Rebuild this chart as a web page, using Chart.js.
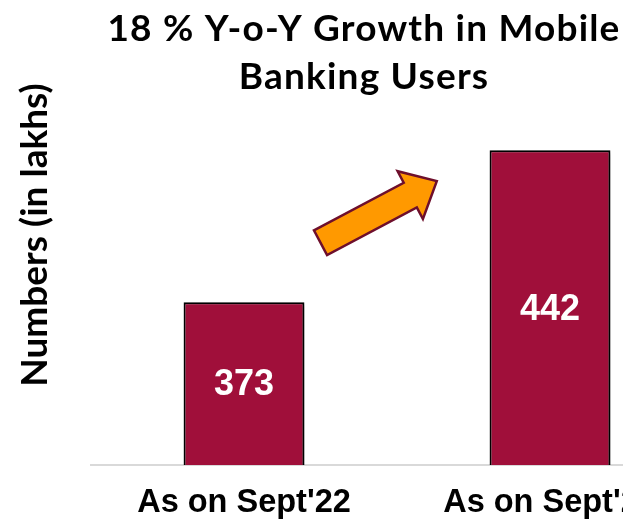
<!DOCTYPE html>
<html>
<head>
<meta charset="utf-8">
<script src="https://cdn.jsdelivr.net/npm/chart.js@4/dist/chart.umd.min.js"></script>
<style>
    html, body { margin: 0; padding: 0; background: #fff; overflow: hidden; }
    #wrap { width: 623px; height: 521px; overflow: hidden; }
    #box { width: 728px; height: 521px; }
</style>
</head>
<body>
<div id="wrap"><div id="box"><canvas id="usersChart"></canvas></div></div>
<script>
const categories = ["As on Sept'22", "As on Sept'23"];
const userCounts = [373, 442];
const titleLines = ['18 % Y-o-Y Growth in Mobile', 'Banking Users'];
const axisTitle = 'Numbers (in lakhs)';

const barColour = '#A00F3A';
const arrowFill = '#FF9900';
const arrowEdge = '#6E0F2C';

// soft shadow to the right of the bars
const barShadow = {
    id: 'barShadow',
    beforeDatasetDraw: (chart) => {
        let ctx = chart.ctx;
        ctx.save();
        ctx.shadowColor = 'rgba(0, 0, 0, 0.4)';
        ctx.shadowOffsetX = 4;
        ctx.shadowOffsetY = 2;
        ctx.shadowBlur = 5;
    },
    afterDatasetDraw: (chart) => {
        chart.ctx.restore();
    },
};

// value inside each bar + the growth arrow between them
const barExtras = {
    id: 'barExtras',
    afterDatasetsDraw: (chart) => {
        let ctx = chart.ctx;
        let x = chart.scales.x;
        let y = chart.scales.y;

        ctx.save();
        ctx.fillStyle = '#ffffff';
        ctx.font = 'bold 36px "Liberation Sans", Arial, sans-serif';
        ctx.textAlign = 'center';
        ctx.textBaseline = 'middle';
        for (let i = 0; i < userCounts.length; i++) {
            let top = y.getPixelForValue(userCounts[i]);
            ctx.fillText(String(userCounts[i]), x.getPixelForValue(i), (top + y.bottom) / 2 + 2);
        }
        ctx.restore();

        // block arrow, tail and tip placed on the scales
        let x0 = x.getPixelForValue(0.25), y0 = y.getPixelForValue(400);
        let x1 = x.getPixelForValue(0.63), y1 = y.getPixelForValue(428);
        let len = Math.hypot(x1 - x0, y1 - y0);
        let shaft = 14, head = 27, headLen = 30;
        ctx.save();
        ctx.translate(x0, y0);
        ctx.rotate(Math.atan2(y1 - y0, x1 - x0));
        ctx.beginPath();
        ctx.moveTo(0, -shaft);
        ctx.lineTo(len - headLen, -shaft);
        ctx.lineTo(len - headLen, -head);
        ctx.lineTo(len, 0);
        ctx.lineTo(len - headLen, head);
        ctx.lineTo(len - headLen, shaft);
        ctx.lineTo(0, shaft);
        ctx.closePath();
        ctx.fillStyle = arrowFill;
        ctx.fill();
        ctx.lineWidth = 2.5;
        ctx.lineJoin = 'miter';
        ctx.strokeStyle = arrowEdge;
        ctx.stroke();
        ctx.restore();
    },
    afterDraw: (chart) => {
        let ctx = chart.ctx;
        ctx.save();
        ctx.fillStyle = '#000';
        ctx.font = 'bold 37px Lato, "Open Sans", sans-serif';
        ctx.letterSpacing = '1.2px';
        ctx.textAlign = 'center';
        ctx.textBaseline = 'middle';
        titleLines.forEach((line, i) => {
            ctx.fillText(line, 364, 29 + i * 48);
        });
        ctx.restore();
    },
};

let ctxUsers = document.getElementById('usersChart').getContext('2d');

let usersConfig = {
    type: 'bar',
    data: {
        labels: categories,
        datasets: [
            {
                label: 'Mobile banking users',
                data: userCounts,
                backgroundColor: barColour,
                borderColor: '#000',
                borderWidth: 2,
                categoryPercentage: 1,
                barPercentage: 0.395,
            },
        ],
    },
    options: {
        responsive: true,
        maintainAspectRatio: false,
        animation: false,
        layout: { padding: { top: 5, right: 25, left: 0, bottom: 0 } },
        plugins: {
            legend: { display: false },
            tooltip: { enabled: false },
        },
        scales: {
            x: {
                grid: { display: false },
                border: { color: '#D9D9D9', width: 2 },
                ticks: {
                    color: '#000',
                    padding: 11,
                    maxRotation: 0,
                    font: { family: '"Liberation Sans", Arial, sans-serif', size: 32.5, weight: 'bold' },
                },
                afterFit: (scale) => { scale.height = 56; },
            },
            y: {
                min: 299,
                max: 508,
                grid: { display: false },
                border: { display: false },
                ticks: { display: false },
                title: {
                    display: true,
                    text: axisTitle,
                    color: '#000',
                    padding: { top: 13, bottom: 0 },
                    font: { family: 'Lato, "Open Sans", sans-serif', size: 37, weight: 'bold' },
                },
                afterFit: (scale) => { scale.width = 91; },
            },
        },
    },
    plugins: [barShadow, barExtras],
};

let usersChart = new Chart(ctxUsers, usersConfig);
</script>
</body>
</html>
